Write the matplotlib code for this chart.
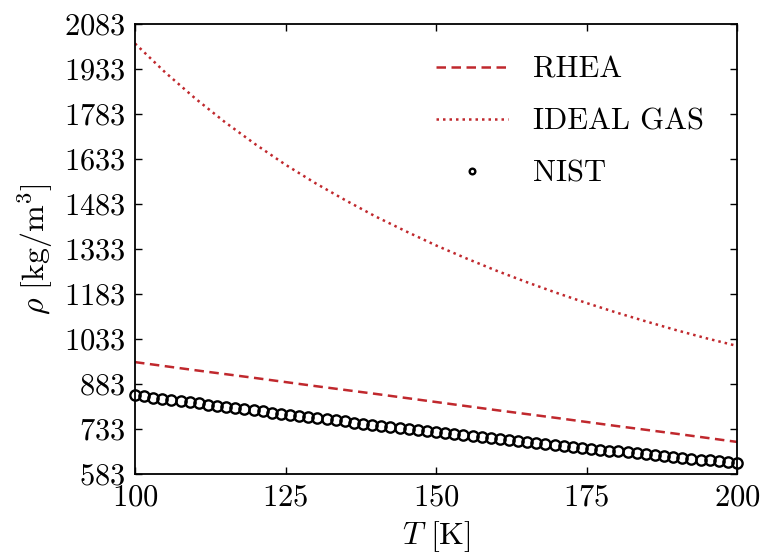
import numpy as np
import matplotlib
matplotlib.use('Agg')
import matplotlib.pyplot as plt

plt.rcParams['font.family'] = 'serif'
plt.rcParams['font.serif'] = ['cmr10']
plt.rcParams['mathtext.fontset'] = 'cm'
plt.rcParams['axes.unicode_minus'] = False
plt.rcParams['axes.formatter.use_mathtext'] = True

## RHEA model (every 10 K)
T_rhea = [100, 110, 120, 130, 140, 150, 160, 170, 180, 190, 200]
rho_rhea = [956, 929, 903, 876, 850, 823, 796, 770, 743, 717, 690]

## ideal gas (every 5 K)
T_ideal = [100, 105, 110, 115, 120, 125, 130, 135, 140, 145, 150,
           155, 160, 165, 170, 175, 180, 185, 190, 195, 200]
rho_ideal = [2018, 1922, 1835, 1755, 1682, 1614, 1552, 1495, 1441, 1392, 1345,
             1302, 1261, 1223, 1187, 1153, 1121, 1091, 1062, 1035, 1010]

## NIST reference points
rho_nist = [846.0, 842.0, 838.0, 834.0, 830.0, 826.1, 822.2, 818.2, 814.4, 810.5,
            806.6, 802.8, 799.0, 795.2, 791.4, 787.6, 783.9, 780.1, 776.4, 772.7,
            769.1, 765.4, 761.8, 758.2, 754.6, 751.0, 747.4, 743.9, 740.4, 736.8,
            733.4, 729.9, 726.4, 723.0, 719.6, 716.2, 712.8, 709.5, 706.1, 702.8,
            699.5, 696.2, 692.9, 689.7, 686.4, 683.2, 680.0, 676.9, 673.7, 670.6,
            667.4, 664.3, 661.3, 658.2, 655.1, 652.1, 649.1, 646.1, 643.1, 640.2,
            637.2, 634.3, 631.4, 628.5, 625.7, 622.8, 620.0]
T_nist = np.linspace(100, 200, len(rho_nist))

xticks = [100, 125, 150, 175, 200]
yticks = [583, 733, 883, 1033, 1183, 1333, 1483, 1633, 1783, 1933, 2083]

red = '#c0282d'

fig = plt.figure(figsize=(7.61, 5.58), dpi=100)
ax = fig.add_axes([0.1774, 0.1505, 0.7911, 0.8065])

ax.plot(T_rhea, rho_rhea, color=red, ls=(0, (3.8, 2.2)), lw=1.8, label='RHEA')
ax.plot(T_ideal, rho_ideal, color=red, ls=(0, (1, 1.6)), lw=1.8, label='IDEAL GAS')
ax.plot(T_nist, rho_nist, ls='none', marker='o', ms=7.4, mfc='none', mec='black',
        mew=1.7, label='NIST', clip_on=False)

ax.set_xlim(100, 200)
ax.set_ylim(583, 2083)
ax.set_xticks(xticks)
ax.set_yticks(yticks)
ax.tick_params(direction='in', top=True, right=True, length=5, width=1,
               labelsize=22, pad=7)
for s in ax.spines.values():
    s.set_linewidth(1.3)

ax.set_xlabel(r'$T\ [\mathrm{K}]$', fontsize=23, labelpad=6)
ax.set_ylabel(r'$\rho\ [\mathrm{kg/m^3}]$', fontsize=23, labelpad=6)

leg = ax.legend(loc='upper right', bbox_to_anchor=(0.99, 0.99), frameon=False,
                fontsize=22, handlelength=2.35, handletextpad=0.8,
                labelspacing=0.8, markerscale=0.55)

fig.savefig('out.png', dpi=100)
